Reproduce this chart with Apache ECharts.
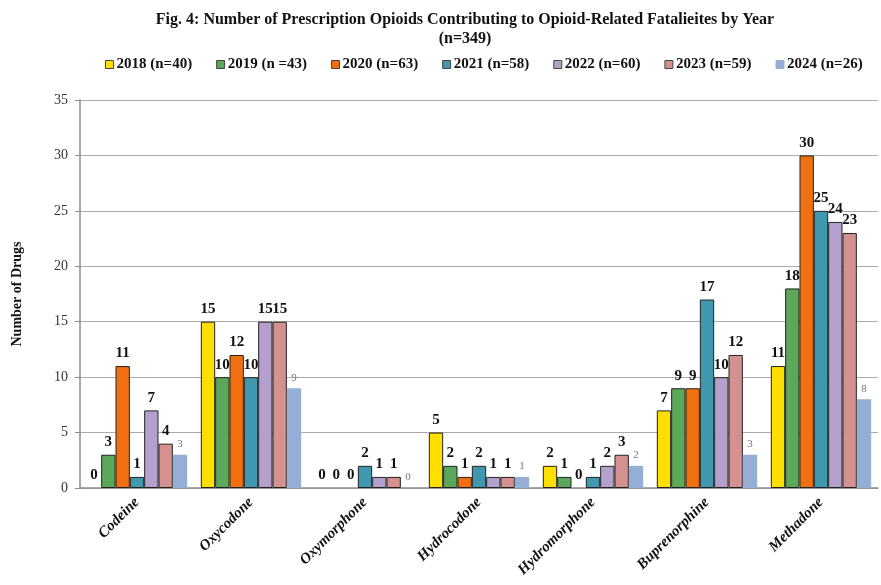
<!DOCTYPE html>
<html>
<head>
<meta charset="utf-8">
<script src="https://cdn.jsdelivr.net/npm/echarts@6/dist/echarts.min.js"></script>
<style>
  html, body { margin: 0; padding: 0; background: #fff; }
  #chart { width: 881px; height: 585px; }
</style>
</head>
<body>
<div id="chart"></div>
<script>
// Drug categories along the x axis
const drugs = ['Codeine', 'Oxycodone', 'Oxymorphone', 'Hydrocodone', 'Hydromorphone', 'Buprenorphine', 'Methadone'];

// Legend names per year
const yearNames = ['2018 (n=40)', '2019 (n =43)', '2020 (n=63)', '2021 (n=58)', '2022 (n=60)', '2023 (n=59)', '2024 (n=26)'];

// Counts per drug for each year
const y2018 = [0, 15, 0, 5, 2, 7, 11];
const y2019 = [3, 10, 0, 2, 1, 9, 18];
const y2020 = [11, 12, 0, 1, 0, 9, 30];
const y2021 = [1, 10, 2, 2, 1, 17, 25];
const y2022 = [7, 15, 1, 1, 2, 10, 24];
const y2023 = [4, 15, 1, 1, 3, 12, 23];
const y2024 = [3, 9, 0, 1, 2, 3, 8];

// Y axis ticks
const yTicks = [0, 5, 10, 15, 20, 25, 30, 35];

const yearValues = [y2018, y2019, y2020, y2021, y2022, y2023, y2024];
const colors = ['#FFDF00', '#5BA85B', '#F07010', '#3F98AE', '#B4A0CC', '#D59090', '#95AED6'];
const serif = '"Liberation Serif", "Times New Roman", serif';

const series = yearNames.map((name, i) => {
  const last = i === yearNames.length - 1;
  return {
    name: name,
    type: 'bar',
    // zero-height bars get no outline so nothing is drawn on the baseline
    data: yearValues[i].map(v => ({
      value: v,
      itemStyle: v === 0 ? { borderWidth: 0 } : undefined
    })),
    barGap: '0%',
    barCategoryGap: '12%',
    itemStyle: {
      color: colors[i],
      borderColor: last ? colors[i] : '#222',
      borderWidth: last ? 0 : 1
    },
    label: {
      show: true,
      position: 'top',
      distance: 5,
      fontFamily: serif,
      fontWeight: last ? 'normal' : 'bold',
      fontSize: last ? 11 : 15,
      color: last ? '#777' : '#111'
    }
  };
});

const chart = echarts.init(document.getElementById('chart'), null, { renderer: 'canvas' });
chart.setOption({
  backgroundColor: '#fff',
  animation: false,
  color: colors,
  title: {
    text: 'Fig. 4: Number of Prescription Opioids Contributing to Opioid-Related Fatalieites by Year\n(n=349)',
    left: 460,
    textAlign: 'center',
    top: 5,
    textStyle: {
      fontFamily: serif,
      fontWeight: 'bold',
      fontSize: 16,
      lineHeight: 19,
      color: '#111'
    }
  },
  legend: {
    top: 52,
    left: 100,
    itemWidth: 8,
    itemHeight: 8,
    itemGap: 24,
    icon: 'rect',
    textStyle: {
      fontFamily: serif,
      fontWeight: 'bold',
      fontSize: 15,
      color: '#111',
      padding: [0, 0, 0, -2]
    },
    data: yearNames.map((n, i) => ({
      name: n,
      itemStyle: { borderColor: i === 6 ? colors[i] : '#444', borderWidth: 1 }
    }))
  },
  grid: {
    left: 80,
    right: 3,
    top: 100,
    bottom: 97,
    containLabel: false
  },
  xAxis: {
    type: 'category',
    data: drugs,
    axisLine: { show: true, lineStyle: { color: '#8c8c8c', width: 1.5 } },
    axisTick: { show: false },
    axisLabel: {
      rotate: 45,
      margin: 12,
      fontFamily: serif,
      fontWeight: 'bold',
      fontStyle: 'italic',
      fontSize: 15,
      color: '#111'
    }
  },
  yAxis: {
    type: 'value',
    min: yTicks[0],
    max: yTicks[yTicks.length - 1],
    interval: 5,
    name: 'Number of Drugs',
    nameLocation: 'middle',
    nameGap: 56,
    nameTextStyle: {
      fontFamily: serif,
      fontWeight: 'bold',
      fontSize: 14,
      color: '#111'
    },
    axisLine: { show: true, lineStyle: { color: '#8c8c8c', width: 1.5 } },
    axisTick: { show: true, length: 5, lineStyle: { color: '#8c8c8c' } },
    axisLabel: {
      margin: 12,
      fontFamily: serif,
      fontSize: 14,
      color: '#333'
    },
    splitLine: { show: true, lineStyle: { color: '#ababab', width: 1 } }
  },
  series: series
});
</script>
</body>
</html>
